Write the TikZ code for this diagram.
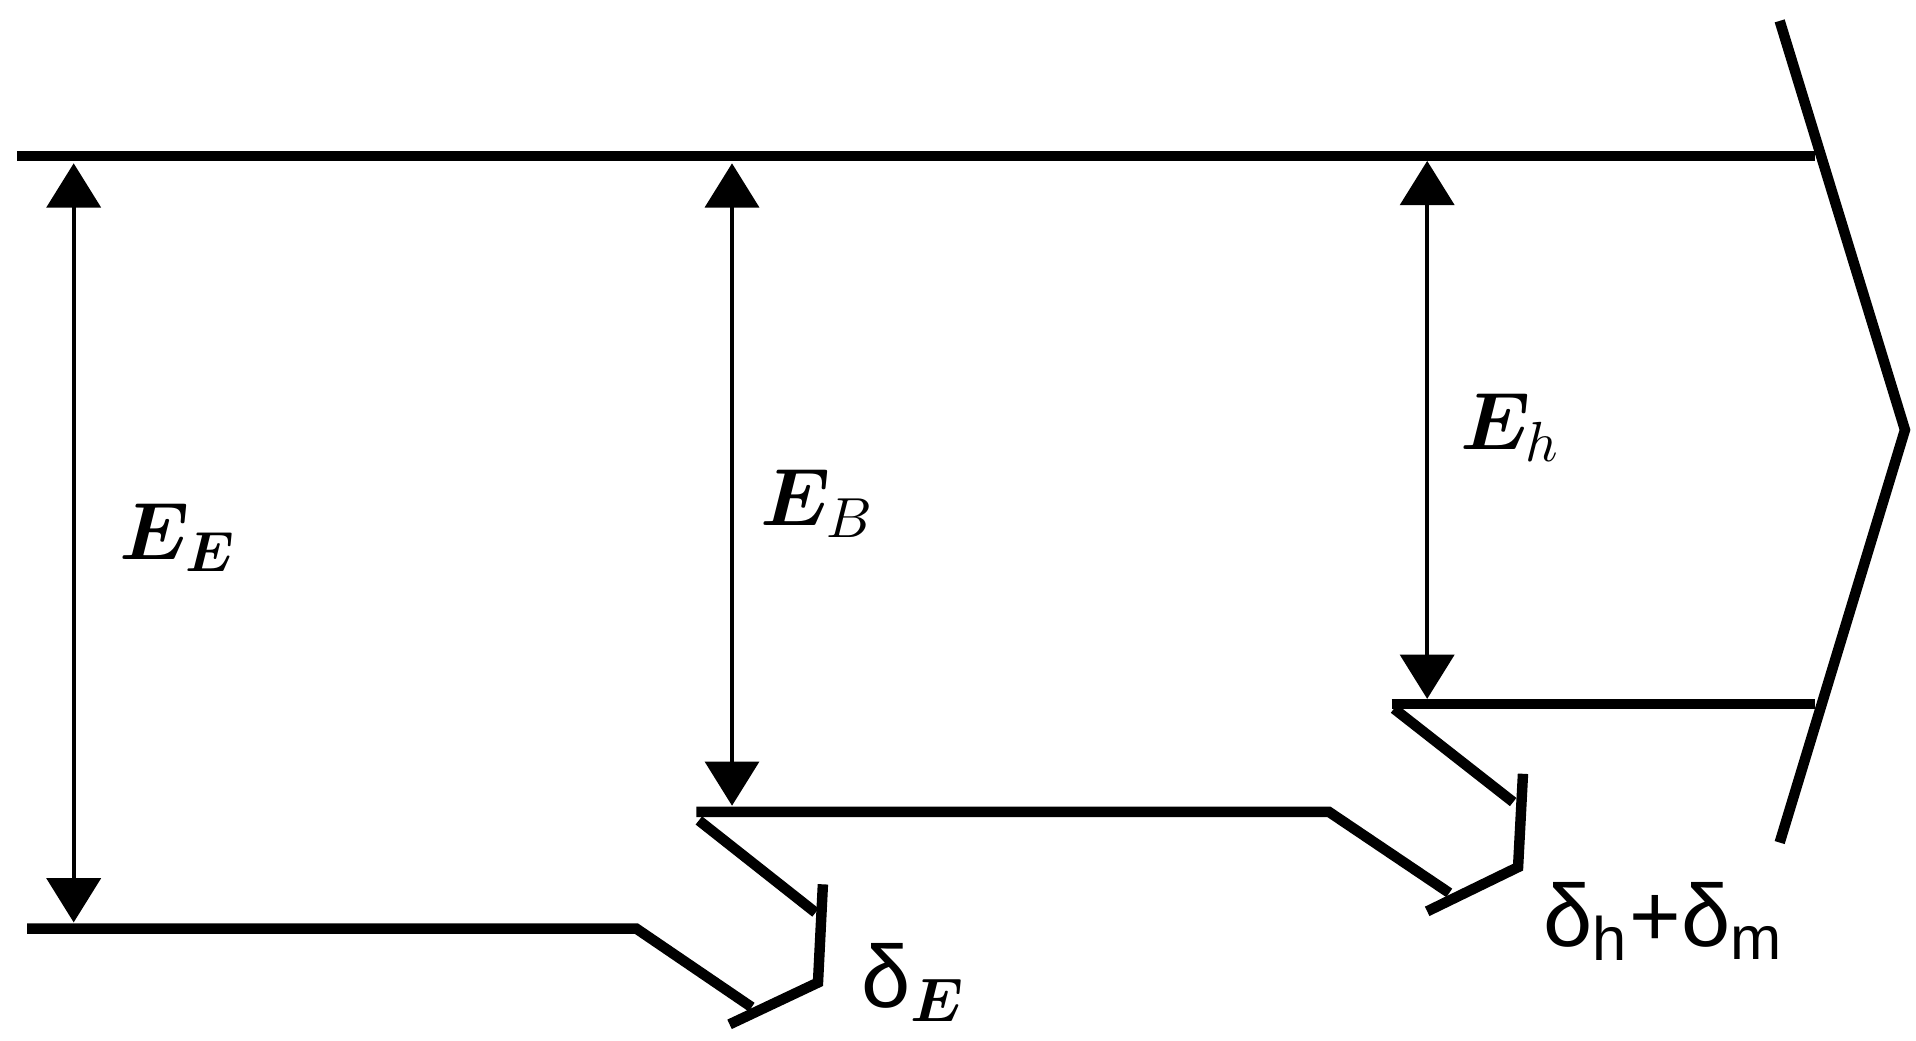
\documentclass[tikz,border=0pt]{standalone}
\usepackage{amsmath,bm}
\usepackage{fontspec}
\newfontfamily\lsans{Liberation Sans}
\usetikzlibrary{arrows.meta}
\begin{document}
\begin{tikzpicture}[x=1pt,y=-1pt,
  band/.style={line width=8.5pt},
  dim/.style={line width=3pt,{Triangle[length=36pt,width=44pt]}-{Triangle[length=36pt,width=44pt]}},
  lbl/.style={font=\Large,scale=4.6},
  slbl/.style={font=\lsans\Large,scale=5.0}]
\useasboundingbox (0,0) rectangle (1560,847);
\coordinate (t1) at (14,127); \coordinate (t2) at (1478,127);
\coordinate (c1) at (1449,17); \coordinate (c2) at (1551,350); \coordinate (c3) at (1449,686);
\coordinate (b1) at (22,756); \coordinate (b2) at (518,756);
\coordinate (m1) at (567,661); \coordinate (m2) at (1082,661);
\coordinate (u1) at (1133,573); \coordinate (u2) at (1478,573);
\draw[band] (t1) -- (t2);
\draw[band,line join=miter] (c1) -- (c2) -- (c3);
\draw[band] (b1) -- (b2) -- (612,820);
\draw[band] (594,834) -- (666,800) -- (670,720);
\draw[band] (569,668) -- (664,743);
\draw[band] (m1) -- (m2) -- (1180,727);
\draw[band] (1162,742) -- (1236,706) -- (1240,630);
\draw[band] (1135,577) -- (1232,653);
\draw[band] (u1) -- (u2);
\coordinate (a1) at (60,133); \coordinate (a2) at (60,751);
\coordinate (d1) at (596,133); \coordinate (d2) at (596,656);
\coordinate (e1) at (1162,131); \coordinate (e2) at (1162,569);
\draw[dim] (a1) -- (a2);
\draw[dim] (d1) -- (d2);
\draw[dim] (e1) -- (e2);
\node[lbl] (LE) at (145,438) {$\bm{E}_{\bm{E}}$};
\node[lbl] (LB) at (666,410) {$\bm{E}_{B}$};
\node[lbl] (LH) at (1230,348) {$\bm{E}_{h}$};
\node[slbl] (dE) at (743,800) {δ\raisebox{-0.3ex}{\normalsize$\bm{E}$}};
\node[slbl] (dh) at (1355,750) {δ\textsubscript{h}+δ\textsubscript{m}};
\end{tikzpicture}
\end{document}
